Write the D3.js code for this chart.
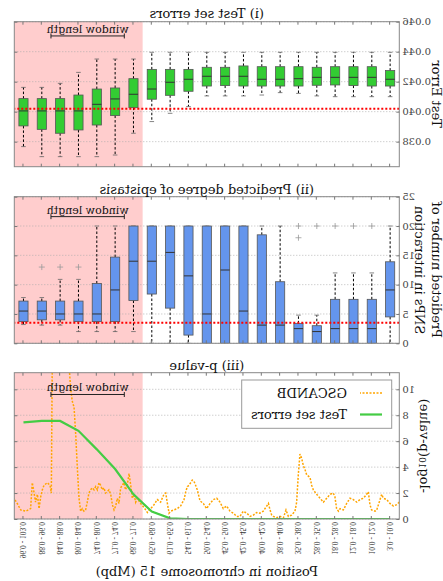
<!DOCTYPE html>
<html>
<head>
<meta charset="utf-8">
<script src="https://cdn.jsdelivr.net/npm/d3@7"></script>
<style>
	body{margin:0;background:#fff;}
	text{font-family:"DejaVu Serif",serif;fill:#111;}
</style>
</head>
<body>
<script>
//window labels (Mbp), in window order
var winLabels = ["3.0 - 10.0","10.0 - 12.0","12.0 - 18.0","18.0 - 28.0","28.0 - 35.0","35.0 - 38.0",
	"38.0 - 40.0","40.0 - 42.0","42.0 - 45.0","45.0 - 50.0","50.0 - 54.0","54.0 - 61.0","61.0 - 65.0",
	"65.0 - 68.0","68.0 - 71.0","71.0 - 74.0","74.0 - 80.0","80.0 - 84.0","84.0 - 88.0","88.0 - 96.0","96.0 - 103.0"];

//(i) test set errors, box stats per window
var errLo  = [0.04100,0.04100,0.04100,0.04100,0.04105,0.04122,0.04127,0.04111,0.04105,0.04105,0.04105,0.04034,0.03989,0.03934,0.03856,0.03711,0.03700,0.03700,0.03700,0.03700,0.03767];
var errQ1  = [0.04171,0.04171,0.04174,0.04178,0.04176,0.04171,0.04171,0.04171,0.04171,0.04174,0.04171,0.04136,0.04109,0.04083,0.04027,0.03974,0.03911,0.03878,0.03856,0.03882,0.03905];
var errMed = [0.04216,0.04229,0.04229,0.04229,0.04229,0.04220,0.04216,0.04216,0.04236,0.04236,0.04236,0.04216,0.04196,0.04151,0.04116,0.04085,0.04049,0.04005,0.04005,0.04005,0.04005];
var errQ3  = [0.04274,0.04300,0.04300,0.04300,0.04296,0.04300,0.04300,0.04300,0.04305,0.04296,0.04296,0.04282,0.04282,0.04282,0.04220,0.04158,0.04151,0.04111,0.04087,0.04087,0.04087];
var errHi  = [0.04396,0.04396,0.04396,0.04396,0.04396,0.04396,0.04396,0.04396,0.04396,0.04396,0.04396,0.04396,0.04396,0.04396,0.04351,0.04351,0.04351,0.04262,0.04189,0.04162,0.04162];
var errRef = 0.0402;
var errTicks = [0.038,0.040,0.042,0.044,0.046];

//(ii) predicted degree of epistasis
var epiLo  = [0,0,0,0,0,0,0,0,0,0,0,0,0,0,2,2,2,2,3.1,3.1,3.2];
var epiQ1  = [4.5,0,0,0,0,0,0,0,0,0,0,1.4,6,8.4,7.3,3.7,3.7,3.7,4,4,3.7];
var epiMed = [9.1,2.5,2.5,2.5,2,2.5,3.1,3.1,5.5,12.5,5,11.5,15.5,14,14,9.1,5,5,5,5.5,5.5];
var epiQ3  = [13.9,7.5,7.5,7.5,3,3.4,10.5,18.5,20,20,20,20,20,20,20,14.7,10.2,7.2,7.2,7.2,7.2];
var epiHi  = [20,12,12,12,4.8,4.8,20,20,20,20,20,20,20,20,20,20,20,10.9,10.9,7.8,7.8];
var epiFlierPos = [2,3,4,5,6,6,18,19,20];
var epiFlierVal = [20,20,20,20,18,20,13,13,13];
var epiRef = 3.5;
var epiTicks = [0,5,10,15,20,25];

//(iii) p-value
var gscanPos = [0.50,0.64,0.82,1.01,1.19,1.37,1.46,1.55,1.73,1.82,2.01,2.10,2.19,2.28,2.46,2.64,2.82,3.01,3.19,3.37,
	3.55,3.73,3.82,3.92,4.01,4.10,4.28,4.46,4.64,4.82,5.01,5.19,5.28,5.37,5.55,5.64,5.73,5.83,5.92,6.01,
	6.10,6.19,6.37,6.55,6.68,6.82,7.01,7.19,7.37,7.46,7.55,7.64,7.73,7.92,8.10,8.28,8.46,8.64,8.82,9.01,
	9.19,9.37,9.55,9.73,9.92,10.10,10.28,10.46,10.64,10.82,11.01,11.19,11.37,11.52,11.61,11.70,11.79,11.97,12.06,12.15,
	12.24,12.43,12.61,12.79,12.97,13.06,13.15,13.24,13.34,13.52,13.70,13.88,14.24,14.43,14.61,14.79,14.88,14.97,15.06,15.15,
	15.24,15.34,15.43,15.52,15.61,15.70,15.79,15.88,15.97,16.06,16.15,16.24,16.34,16.43,16.52,16.61,16.70,16.79,16.88,16.97,
	17.06,17.15,17.24,17.34,17.43,17.52,17.61,17.70,17.79,17.88,17.97,18.06,18.15,18.24,18.34,18.43,18.52,18.97,19.43,19.48,
	19.55,19.70,19.88,19.97,20.06,20.15,20.24,20.34,20.43,20.52,20.61,20.88,21.15,21.34,21.52];
var gscanVal = [1.3,1.1,1.0,1.2,1.5,1.6,1.9,1.5,0.7,0.6,0.7,1.1,2.1,1.9,1.6,1.5,1.3,1.5,1.6,1.2,
	0.7,0.8,0.6,0.8,1.7,2.0,1.9,1.6,1.3,1.6,1.9,2.25,2.6,3.2,3.4,3.8,4.1,4.7,5.0,3.4,
	1.3,0.6,0.3,0.2,0.7,0.1,0.2,0.1,0.2,0.3,0.7,1.2,1.0,0.6,0.45,0.5,0.3,0.2,0.45,0.6,
	0.2,0.2,0.45,0.6,1.0,0.8,1.3,1.6,1.5,1.2,0.8,1.2,1.4,2.25,2.6,2.9,3.0,2.6,2.5,2.1,
	1.5,1.0,0.8,0.7,0.6,0.45,1.2,2.0,1.9,1.3,1.5,1.1,0.5,0.9,1.2,1.6,1.3,1.9,1.6,2.6,
	3.5,2.6,2.25,2.8,2.6,2.4,1.2,1.6,1.0,0.7,1.1,1.9,2.25,2.1,2.0,2.4,2.25,2.6,2.8,2.25,
	2.5,2.25,2.4,2.25,2.0,1.3,0.7,0.6,0.8,0.6,1.6,3.9,6.5,8.6,9.1,10.1,12,12.5,12,2.0,
	2.6,2.8,2.6,2.25,1.7,0.8,1.9,1.3,2.1,2.8,0.8,0.6,0.7,1.2,1.6];
var testErrLogP = [0,0,0,0,0,0,0,0,0,0,0,0,0.05,0.57,1.9,3.85,5.37,6.8,7.56,7.56,7.45];
var pTicks = [0,2,4,6,8,10];

var windowStart = 14.5; //first window of the shaded block
var windowBar = [15.5, 19.5];

var w = 443, h = 581;
var positions = winLabels.map(function(d, i){ return i + 1; });

var svg = d3.select("body")
	.append("svg")
	.attr("width", w)
	.attr("height", h);

//the reference is drawn mirrored left-right
var root = svg.append("g")
	.attr("transform", "translate(" + w + ",0) scale(-1,1)");

var x = d3.scaleLinear()
	.domain([0.5, 21.5])
	.range([43.7, 428.7]);

var clipCount = 0;

function makePanel(top, bottom, domain, ticks){
	var y = d3.scaleLinear()
		.domain(domain)
		.range([bottom, top]);
	var g = root.append("g");
	var id = "clip" + (clipCount++);
	g.append("clipPath")
		.attr("id", id)
		.append("rect")
		.attr("x", x(0.5))
		.attr("y", top)
		.attr("width", x(21.5) - x(0.5))
		.attr("height", bottom - top);

	g.append("rect")
		.attr("class", "window")
		.attr("x", x(windowStart))
		.attr("y", top)
		.attr("width", x(21.5) - x(windowStart))
		.attr("height", bottom - top)
		.style("fill", "#ffcdcd");

	g.selectAll(".grid")
		.data(ticks)
		.enter()
		.append("line")
		.attr("class", "grid")
		.attr("x1", x(0.5))
		.attr("x2", x(21.5))
		.attr("y1", function(d){ return y(d); })
		.attr("y2", function(d){ return y(d); })
		.style("stroke", "#aaa")
		.style("stroke-width", 0.8)
		.style("stroke-dasharray", "1,2");

	var plot = g.append("g").attr("clip-path", "url(#" + id + ")");
	return {g: g, plot: plot, y: y, top: top, bottom: bottom, ticks: ticks};
}

function blank(){ return ""; }

function finishPanel(p, fmt, title, titleY, barVal){
	var g = p.g;
	var y = p.y;

	//frame
	g.append("rect")
		.attr("x", x(0.5))
		.attr("y", p.top)
		.attr("width", x(21.5) - x(0.5))
		.attr("height", p.bottom - p.top)
		.style("fill", "none")
		.style("stroke", "#888")
		.style("stroke-width", 1);

	var left = g.append("g")
		.attr("class", "axis")
		.attr("transform", "translate(" + x(0.5) + ",0)")
		.call(d3.axisLeft(y).tickValues(p.ticks).tickFormat(fmt).tickSizeInner(-3).tickSizeOuter(0).tickPadding(3));
	left.selectAll("text")
		.style("font-family", "DejaVu Serif")
		.style("font-size", "10px")
		.style("fill", "#444");

	g.append("g")
		.attr("transform", "translate(" + x(21.5) + ",0)")
		.call(d3.axisRight(y).tickValues(p.ticks).tickFormat(blank).tickSizeInner(-3).tickSizeOuter(0));
	g.append("g")
		.attr("transform", "translate(0," + p.top + ")")
		.call(d3.axisTop(x).tickValues(positions).tickFormat(blank).tickSizeInner(-3).tickSizeOuter(0));
	var bottomAxis = g.append("g")
		.attr("class", "xaxis")
		.attr("transform", "translate(0," + p.bottom + ")")
		.call(d3.axisBottom(x).tickValues(positions).tickFormat(blank).tickSizeInner(-3).tickSizeOuter(0));

	g.selectAll(".domain").remove();
	g.selectAll(".tick line").style("stroke", "#777");

	//window length marker
	var by = y(barVal);
	g.append("line")
		.attr("x1", x(windowBar[0]))
		.attr("x2", x(windowBar[1]))
		.attr("y1", by)
		.attr("y2", by)
		.style("stroke", "#222")
		.style("stroke-width", 1);
	g.selectAll(".cap")
		.data(windowBar)
		.enter()
		.append("line")
		.attr("x1", function(d){ return x(d); })
		.attr("x2", function(d){ return x(d); })
		.attr("y1", by - 2.5)
		.attr("y2", by + 2.5)
		.style("stroke", "#222")
		.style("stroke-width", 1);
	g.append("text")
		.attr("x", x((windowBar[0] + windowBar[1]) / 2))
		.attr("y", by - 3)
		.attr("text-anchor", "middle")
		.attr("textLength", 82)
		.attr("lengthAdjust", "spacingAndGlyphs")
		.style("font-size", "11px")
		.text("window length");

	g.append("text")
		.attr("class", "title")
		.attr("x", x(11))
		.attr("y", titleY)
		.attr("text-anchor", "middle")
		.style("font-size", "13px")
		.text(title);

	return bottomAxis;
}

function drawBoxes(p, lo, q1, med, q3, hi, fill){
	var y = p.y;
	var half = (x(1.25) - x(1));
	var stats = positions.map(function(d, i){
		return {p: d, lo: lo[i], q1: q1[i], med: med[i], q3: q3[i], hi: hi[i]};
	});
	var box = p.plot.selectAll(".box")
		.data(stats)
		.enter()
		.append("g")
		.attr("class", "box");

	//whiskers
	box.append("line")
		.attr("x1", function(d){ return x(d.p); })
		.attr("x2", function(d){ return x(d.p); })
		.attr("y1", function(d){ return y(d.q3); })
		.attr("y2", function(d){ return y(d.hi); })
		.style("stroke", "#000")
		.style("stroke-dasharray", "2.5,2");
	box.append("line")
		.attr("x1", function(d){ return x(d.p); })
		.attr("x2", function(d){ return x(d.p); })
		.attr("y1", function(d){ return y(d.q1); })
		.attr("y2", function(d){ return y(d.lo); })
		.style("stroke", "#000")
		.style("stroke-dasharray", "2.5,2");
	box.selectAll(".wcap")
		.data(function(d){ return [{p: d.p, v: d.lo}, {p: d.p, v: d.hi}]; })
		.enter()
		.append("line")
		.attr("x1", function(d){ return x(d.p) - half * 0.5; })
		.attr("x2", function(d){ return x(d.p) + half * 0.5; })
		.attr("y1", function(d){ return y(d.v); })
		.attr("y2", function(d){ return y(d.v); })
		.style("stroke", "#666")
		.style("stroke-width", 0.8);

	box.append("rect")
		.attr("x", function(d){ return x(d.p) - half; })
		.attr("y", function(d){ return y(d.q3); })
		.attr("width", half * 2)
		.attr("height", function(d){ return y(d.q1) - y(d.q3); })
		.style("fill", fill)
		.style("stroke", "#555")
		.style("stroke-width", 0.8);

	box.append("line")
		.attr("x1", function(d){ return x(d.p) - half; })
		.attr("x2", function(d){ return x(d.p) + half; })
		.attr("y1", function(d){ return y(d.med); })
		.attr("y2", function(d){ return y(d.med); })
		.style("stroke", "#333")
		.style("stroke-width", 1);
}

function refLine(p, v){
	p.plot.append("line")
		.attr("x1", x(0.5))
		.attr("x2", x(21.5))
		.attr("y1", p.y(v))
		.attr("y2", p.y(v))
		.style("stroke", "#ff0000")
		.style("stroke-width", 2)
		.style("stroke-dasharray", "2,2");
}

function yLabel(lines, cy){
	lines.forEach(function(l){
		root.append("text")
			.attr("transform", "translate(" + l.x + "," + cy + ") rotate(-90)")
			.attr("text-anchor", "middle")
			.attr("dominant-baseline", "central")
			.style("font-size", "13px")
			.text(l.t);
	});
}

//panel (i)
var p1 = makePanel(21.7, 166.7, [0.03633, 0.046], errTicks);
drawBoxes(p1, errLo, errQ1, errMed, errQ3, errHi, "#33cc33");
refLine(p1, errRef);
finishPanel(p1, d3.format(".3f"), "(i) Test set errors", 17.5, 0.04505);
yLabel([{x: 7, t: "Test Error"}], 94.2);

//panel (ii)
var p2 = makePanel(196.7, 343.3, [0, 25], epiTicks);
drawBoxes(p2, epiLo, epiQ1, epiMed, epiQ3, epiHi, "#6495ed");
var fliers = epiFlierPos.map(function(d, i){ return {p: d, v: epiFlierVal[i]}; });
p2.plot.selectAll(".flier")
	.data(fliers)
	.enter()
	.append("path")
	.attr("class", "flier")
	.attr("d", function(d){
		var cx = x(d.p), cy = p2.y(d.v);
		return "M" + (cx - 3) + "," + cy + "H" + (cx + 3) + "M" + cx + "," + (cy - 3) + "V" + (cy + 3);
	})
	.style("stroke", "#999")
	.style("stroke-width", 0.8);
refLine(p2, epiRef);
finishPanel(p2, d3.format("d"), "(ii) Predicted degree of epistasis", 193.5, 21.6);
yLabel([{x: 7, t: "Predicted number of"}, {x: 24, t: "SNPs in interaction"}], 270);

//panel (iii)
var p3 = makePanel(372.7, 519, [0, 11.28], pTicks);
var gscan = gscanPos.map(function(d, i){ return [d, gscanVal[i]]; });
var line = d3.line()
	.x(function(d){ return x(d[0]); })
	.y(function(d){ return p3.y(d[1]); });
p3.plot.append("path")
	.datum(gscan)
	.attr("d", line)
	.style("fill", "none")
	.style("stroke", "#ffa500")
	.style("stroke-width", 1.5)
	.style("stroke-dasharray", "2,1.5");
p3.plot.append("path")
	.datum(testErrLogP.map(function(d, i){ return [positions[i], d]; }))
	.attr("d", line)
	.style("fill", "none")
	.style("stroke", "#44cc44")
	.style("stroke-width", 2.2);
var xb = finishPanel(p3, d3.format("d"), "(iii) p-value", 369.5, 9.6);
xb.call(d3.axisBottom(x).tickValues(positions)
	.tickFormat(function(d){ return winLabels[d - 1]; })
	.tickSizeInner(-3).tickSizeOuter(0).tickPadding(3));
xb.selectAll(".domain").remove();
xb.selectAll(".tick line").style("stroke", "#777");
xb.selectAll("text")
	.attr("transform", "rotate(-90)")
	.attr("x", -3)
	.attr("y", 0)
	.attr("dy", "0.35em")
	.style("text-anchor", "end")
	.style("font-family", "Liberation Serif")
	.style("font-size", "7.5px")
	.style("fill", "#333");

var ylab3 = root.append("text")
	.attr("transform", "translate(18,445.9) rotate(-90)")
	.attr("text-anchor", "middle")
	.attr("dominant-baseline", "central")
	.style("font-size", "13px");
ylab3.append("tspan").text("-log");
ylab3.append("tspan").attr("dy", 3).style("font-size", "9px").text("10");
ylab3.append("tspan").attr("dy", -3).text("(p-value)");

//legend
var legend = p3.g.append("g").attr("class", "legend");
legend.append("rect")
	.attr("x", 51.3)
	.attr("y", 380)
	.attr("width", 150)
	.attr("height", 48.3)
	.style("fill", "#fff")
	.style("stroke", "#999");
var legItems = [
	{name: "GSCANDB", color: "#ffa500", dash: "2,1.5", width: 1.5},
	{name: "Test set errors", color: "#44cc44", dash: null, width: 2.2}
];
var li = legend.selectAll(".item")
	.data(legItems)
	.enter()
	.append("g")
	.attr("class", "item")
	.attr("transform", function(d, i){ return "translate(0," + (393 + i * 21.5) + ")"; });
li.append("line")
	.attr("x1", 61)
	.attr("x2", 83)
	.style("stroke", function(d){ return d.color; })
	.style("stroke-width", function(d){ return d.width; })
	.style("stroke-dasharray", function(d){ return d.dash; });
li.append("text")
	.attr("x", 96)
	.attr("dominant-baseline", "central")
	.style("font-size", "13px")
	.text(function(d){ return d.name; });

root.append("text")
	.attr("x", x(11))
	.attr("y", 576)
	.attr("text-anchor", "middle")
	.style("font-size", "13px")
	.text("Position in chromosome 15 (Mbp)");
</script>
</body>
</html>
